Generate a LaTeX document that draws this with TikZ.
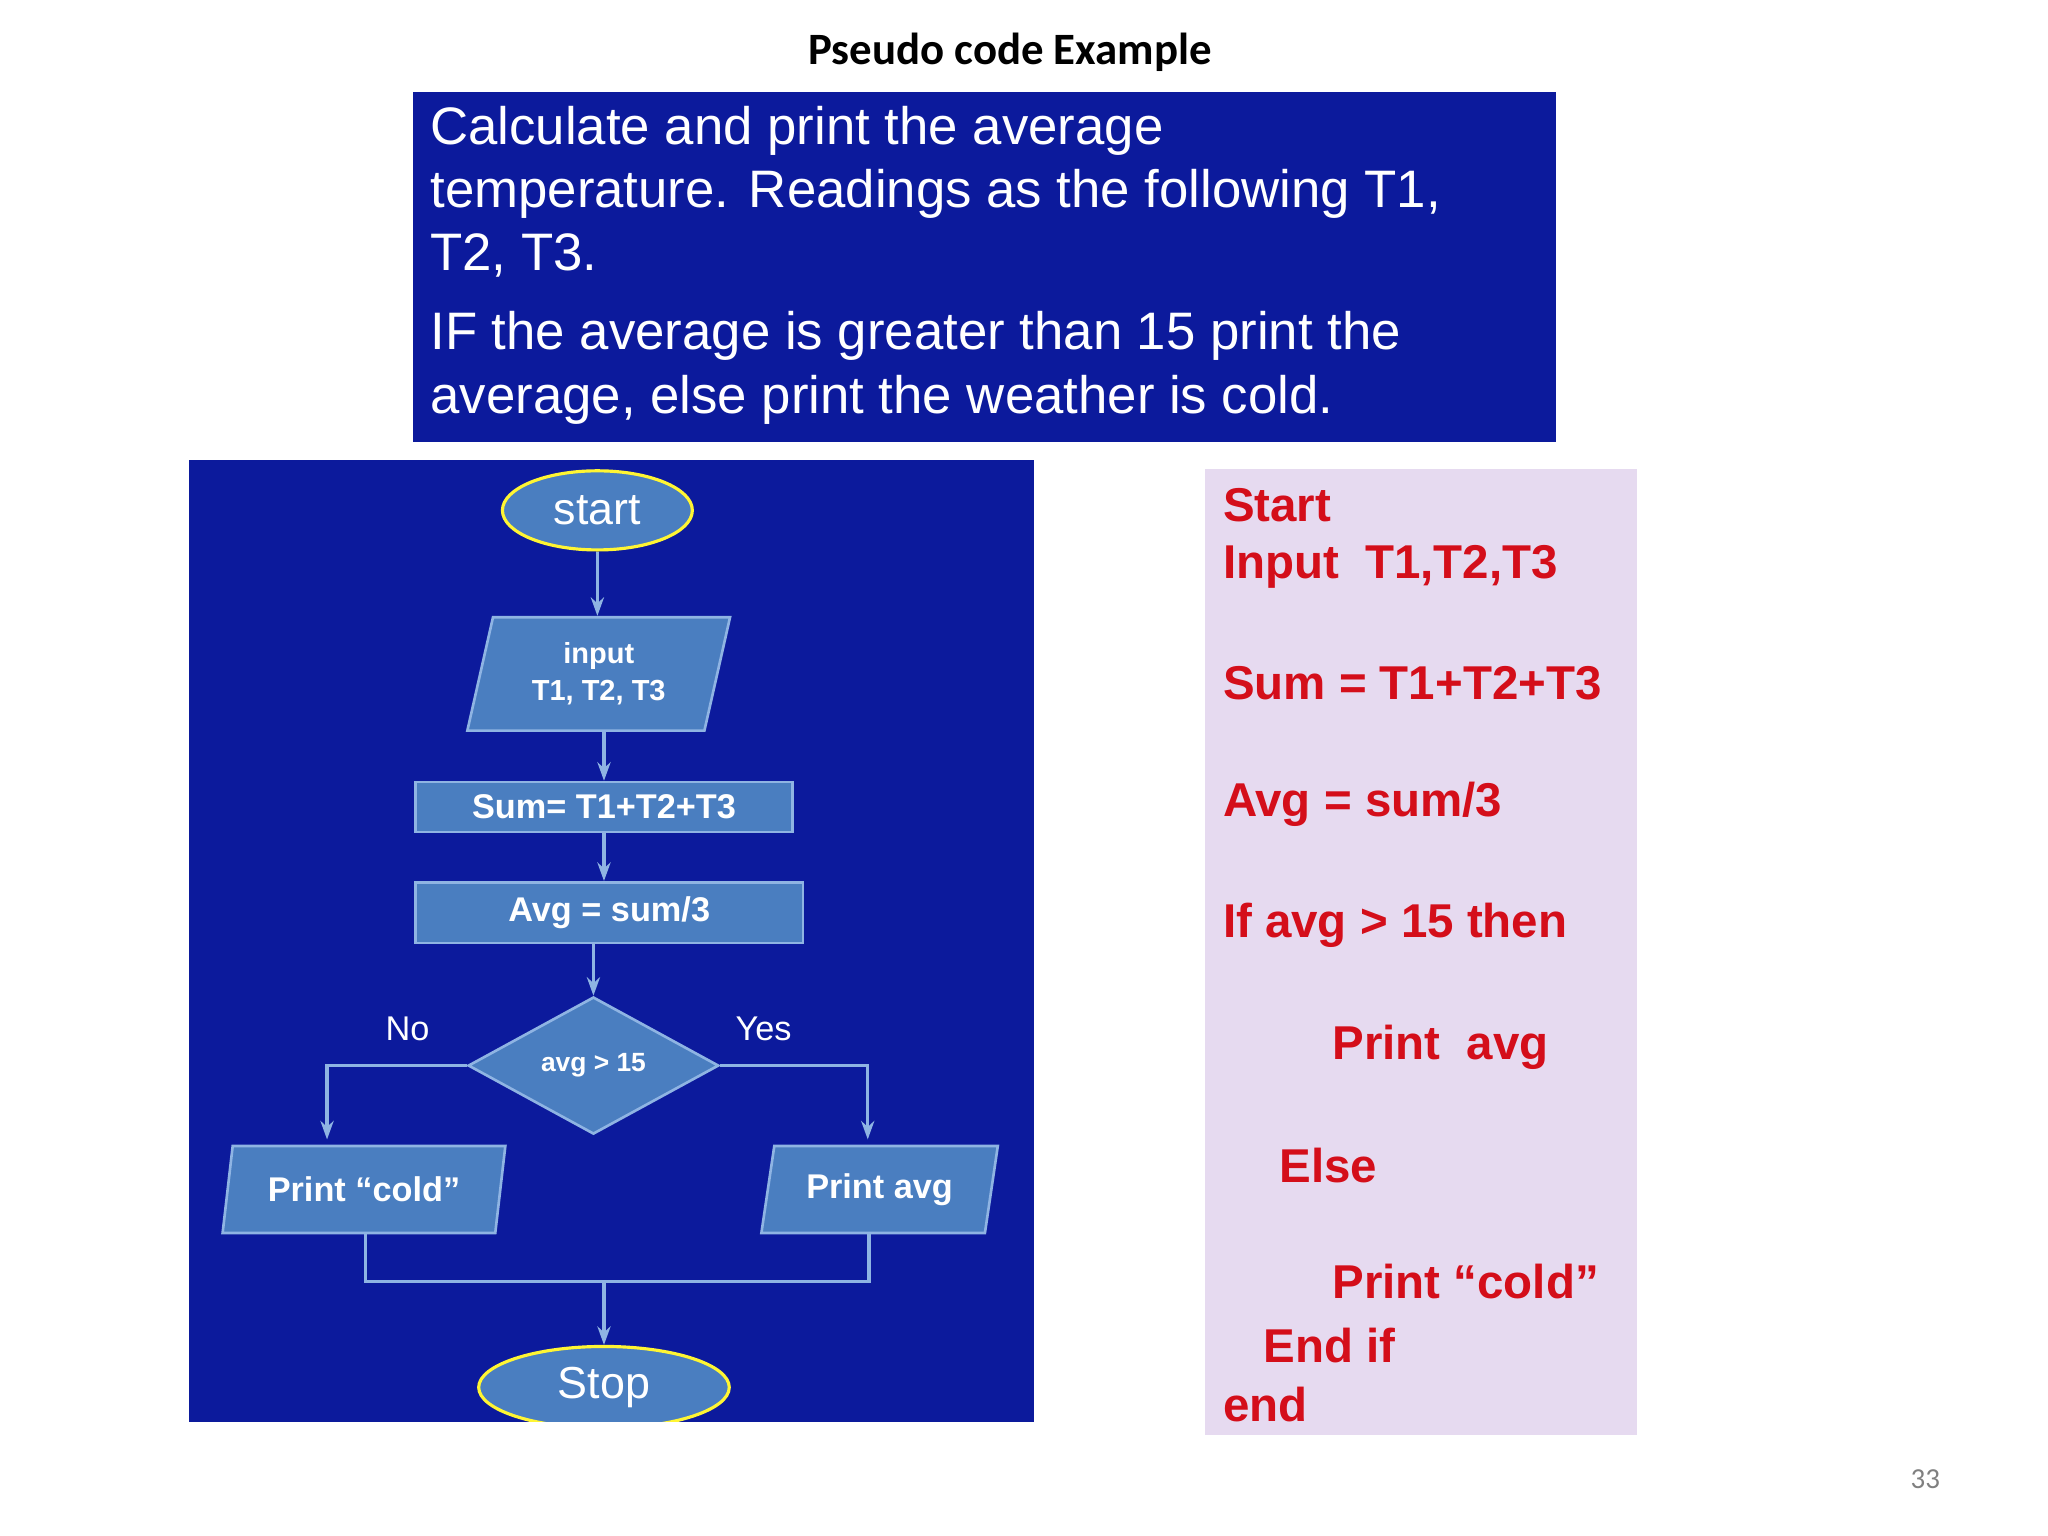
\documentclass[tikz,border=0pt]{standalone}
\usepackage{fontspec}
\setmainfont{Liberation Sans}
\newfontfamily\calib{Carlito}
\usetikzlibrary{shapes.geometric,arrows.meta}
\definecolor{navy}{HTML}{0C1A9C}
\definecolor{fbox}{HTML}{4A7EC0}
\definecolor{fline}{HTML}{8FB4E3}
\definecolor{lav}{HTML}{E6DAF0}
\definecolor{redt}{HTML}{D40E1A}
\tikzset{
 box/.style={draw=fline,line width=1pt,fill=fbox,text=white,font=\bfseries\fontsize{13}{15}\selectfont},
 para/.style={box,trapezium,trapezium left angle=76,trapezium right angle=104,inner sep=1pt,trapezium stretches=true},
 term/.style={ellipse,draw=yellow!80!white,line width=1.2pt,fill=fbox,text=white,inner sep=0pt,font=\fontsize{17}{19}\selectfont},
 conn/.style={draw=fline,line width=1.2pt},
 arr/.style={conn,-{Stealth[length=7pt,width=5pt]}},
 ps/.style={anchor=west,text=redt,font=\bfseries\fontsize{18}{20}\selectfont,inner sep=0pt},
}
\begin{document}
\begin{tikzpicture}[x=0.5pt,y=-0.5pt]
\useasboundingbox (0,0) rectangle (1553,1164);
\node[font=\calib\bfseries\fontsize{17}{20}\selectfont] (title) at (766,40) {Pseudo code Example};
\fill[navy] (313,70) rectangle (1180,335);
\node[anchor=north west,text=white,align=left,inner sep=0pt,font=\fontsize{20}{24}\selectfont] (prob) at (326,80)
 {Calculate and print the average\\temperature. Readings as the following T1,\\T2, T3.\\[6pt]IF the average is greater than 15 print the\\average, else print the weather is cold.};
\fill[navy] (143,349) rectangle (784,1078);
\node[term,minimum width=72pt,minimum height=30pt] (start) at (453,387) {start};
\node[para,minimum width=100pt,minimum height=43pt,align=center,font=\bfseries\fontsize{11}{14}\selectfont] (in) at (454,511) {input\\T1, T2, T3};
\node[box,minimum width=143pt,minimum height=19pt,inner sep=0pt] (sum) at (458,612) {Sum= T1+T2+T3};
\node[box,minimum width=147pt,minimum height=23pt,inner sep=0pt] (avg) at (462,692) {Avg = sum/3};
\node[box,diamond,minimum width=95pt,minimum height=52pt,inner sep=0pt,aspect=1.8,font=\bfseries\fontsize{10}{12}\selectfont] (dec) at (450,808) {avg > 15};
\node[para,minimum width=108pt,minimum height=33pt] (cold) at (276,902) {Print “cold”};
\node[para,minimum width=90pt,minimum height=33pt] (pavg) at (667,902) {Print avg};
\begin{scope}
\clip (143,349) rectangle (784,1078);
\node[term,minimum width=95pt,minimum height=31pt] (stop) at (458,1052) {Stop};
\end{scope}
\node[text=white,font=\fontsize{13}{15}\selectfont] (no) at (309,780) {No};
\node[text=white,font=\fontsize{13}{15}\selectfont] (yes) at (579,780) {Yes};
\draw[arr] (start.south) -- (start.south|-in.north);
\draw[arr] (in.south) ++(4,0) coordinate (ia) -- (ia|-sum.north);
\draw[arr] (sum.south) -- (sum.south|-avg.north);
\draw[arr] (avg.south-|dec) -- (dec.north);
\coordinate (lc) at (248,808);
\coordinate (rc) at (658,808);
\draw[arr] (dec.west) -- (lc) -- (248,864);
\draw[arr] (dec.east) -- (rc) -- (658,864);
\coordinate (j) at (458,972);
\draw[conn] (cold.south-|277,0) -- (277,972) -- (659,972) -- (pavg.south-|659,0);
\draw[arr] (j) -- (stop.north);
\fill[lav] (914,356) rectangle (1241,1088);
\node[ps] (p1) at (927,383) {Start};
\node[ps] (p2) at (927,430) {Input\ \ T1,T2,T3};
\node[ps] (p3) at (927,518) {Sum = T1+T2+T3};
\node[ps] (p4) at (927,610) {Avg = sum/3};
\node[ps] (p5) at (927,702) {If avg > 15 then};
\node[ps] (p6) at (1010,794) {Print\ \ avg};
\node[ps] (p7) at (970,884) {Else};
\node[ps] (p8) at (1010,972) {Print “cold”};
\node[ps] (p9) at (958,1020) {End if};
\node[ps] (p10) at (927,1065) {end};
\node[text=gray,font=\calib\fontsize{11}{13}\selectfont] (pg) at (1460,1122) {33};
\end{tikzpicture}
\end{document}
